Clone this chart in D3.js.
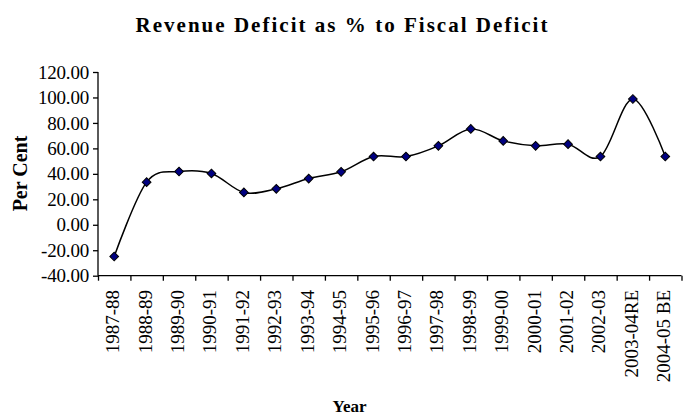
<!DOCTYPE html>
<html>
<head>
<meta charset="utf-8">
<script src="https://cdn.jsdelivr.net/npm/d3@7/dist/d3.min.js"></script>
<style>
  html, body { margin: 0; padding: 0; background: #fff; }
  svg { display: block; }
  text { font-family: "Liberation Serif", "Times New Roman", serif; fill: #000; }
</style>
</head>
<body>
<svg id="chart" width="683" height="415"></svg>
<script>
// Revenue deficit as a share of fiscal deficit, by year
const years = ["1987-88", "1988-89", "1989-90", "1990-91", "1991-92", "1992-93",
  "1993-94", "1994-95", "1995-96", "1996-97", "1997-98", "1998-99", "1999-00",
  "2000-01", "2001-02", "2002-03", "2003-04RE", "2004-05 BE"];
const deficitShare = [-24.9, 33.5, 41.8, 40.3, 25.4, 28.2, 36.3, 41.6, 53.6,
  53.6, 62.0, 75.3, 65.9, 62.0, 63.3, 53.6, 98.8, 53.6];
const yTicks = [-40, -20, 0, 20, 40, 60, 80, 100, 120];

const title = "Revenue Deficit as % to Fiscal Deficit";
const xTitle = "Year";
const yTitle = "Per Cent";

const svg = d3.select("#chart");
const plotLeft = 98, plotRight = 681.5, plotTop = 72, plotBottom = 275.7;

const x = d3.scaleBand().domain(years).range([plotLeft, plotRight]).paddingInner(0).paddingOuter(0);
const y = d3.scaleLinear().domain([-40, 120]).range([plotBottom, plotTop]);

// Title, letter-spaced to span its slot
const titleText = svg.append("text")
  .attr("x", 342.5).attr("y", 32)
  .attr("text-anchor", "middle")
  .attr("font-size", 21).attr("font-weight", "bold")
  .text(title);
const titleWidth = 414;
const natural = titleText.node().getComputedTextLength();
titleText.attr("letter-spacing", Math.max(0, (titleWidth - natural) / title.length));

// Y axis
const yAxis = svg.append("g")
  .attr("transform", `translate(${plotLeft},0)`)
  .call(d3.axisLeft(y).tickValues(yTicks).tickSize(5).tickPadding(4)
    .tickFormat(d => d.toFixed(2)));
yAxis.selectAll("text").attr("font-size", 19).attr("font-family", "Liberation Serif")
  .attr("letter-spacing", -0.2);
yAxis.selectAll("path, line").attr("stroke", "#000").attr("stroke-width", 1.3);
yAxis.select(".domain").attr("d", `M0,${plotBottom}V${plotTop}`);

// X axis: ticks between categories
const boundary = d3.scaleLinear().domain([0, years.length]).range([plotLeft, plotRight]);
const xTickAxis = svg.append("g")
  .attr("transform", `translate(0,${plotBottom})`)
  .call(d3.axisBottom(boundary).tickValues(d3.range(years.length + 1)).tickSize(5).tickFormat(""));
xTickAxis.selectAll("path, line").attr("stroke", "#000").attr("stroke-width", 1.3);
xTickAxis.select(".domain").attr("d", `M${plotLeft},0H${plotRight}`);

// Category labels, rotated
svg.append("g").selectAll("text")
  .data(years)
  .join("text")
  .attr("transform", d => `translate(${x(d) + x.bandwidth() / 2 + 5},${290}) rotate(-90)`)
  .attr("text-anchor", "end")
  .attr("font-size", 19)
  .text(d => d);

// Axis titles
svg.append("text")
  .attr("transform", `translate(27,173.5) rotate(-90)`)
  .attr("text-anchor", "middle")
  .attr("font-size", 20).attr("font-weight", "bold")
  .text(yTitle);

svg.append("text")
  .attr("x", 349.5).attr("y", 412)
  .attr("text-anchor", "middle")
  .attr("font-size", 17).attr("font-weight", "bold")
  .text(xTitle);

// Smoothed line
const line = d3.line()
  .x((d, i) => x(years[i]) + x.bandwidth() / 2)
  .y(d => y(d))
  .curve(d3.curveCardinal.tension(0));

svg.append("path")
  .datum(deficitShare)
  .attr("fill", "none")
  .attr("stroke", "#000")
  .attr("stroke-width", 1.5)
  .attr("d", line);

// Diamond markers
svg.append("g").selectAll("path")
  .data(deficitShare)
  .join("path")
  .attr("transform", (d, i) => `translate(${x(years[i]) + x.bandwidth() / 2},${y(d)}) rotate(45)`)
  .attr("d", d3.symbol().type(d3.symbolSquare).size(38)())
  .attr("fill", "#000080")
  .attr("stroke", "#000")
  .attr("stroke-width", 1);
</script>
</body>
</html>
